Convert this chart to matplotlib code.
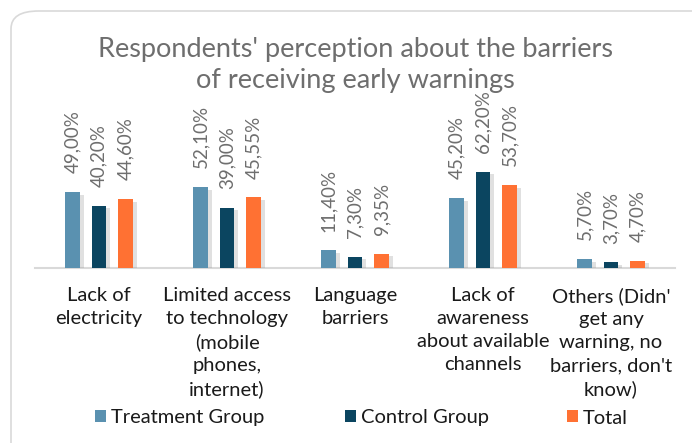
import matplotlib
matplotlib.use("Agg")
import matplotlib.pyplot as plt
import matplotlib.patheffects as pe
from matplotlib.patches import FancyBboxPatch, Patch
import numpy as np

categories = ["Lack of\nelectricity",
              "Limited access\nto technology\n(mobile\nphones,\ninternet)",
              "Language\nbarriers",
              "Lack of\nawareness\nabout available\nchannels",
              "Others (Didn'\nget any\nwarning, no\nbarriers, don't\nknow)"]
series_names = ["Treatment Group", "Control Group", "Total"]
treatment = [49.00, 52.10, 11.40, 45.20, 5.70]
control = [40.20, 39.00, 7.30, 62.20, 3.70]
total = [44.60, 45.55, 9.35, 53.70, 4.70]
labels_t = ["49,00%", "52,10%", "11,40%", "45,20%", "5,70%"]
labels_c = ["40,20%", "39,00%", "7,30%", "62,20%", "3,70%"]
labels_tot = ["44,60%", "45,55%", "9,35%", "53,70%", "4,70%"]
colors = ["#5A91B0", "#0B4560", "#FF7133"]

plt.rcParams['font.family'] = ['Lato', 'DejaVu Sans']

W, H = 692, 443
fig = plt.figure(figsize=(W / 100, H / 100), dpi=100)

# rounded border
border = FancyBboxPatch((11 / W, -0.2), 1.2, 1.2 - 11 / H,
                        boxstyle="round,pad=0,rounding_size=0.04",
                        transform=fig.transFigure, fill=False,
                        edgecolor="#D9D9D9", linewidth=1.2)
fig.patches.append(border)

ax_left, ax_right = 35 / W, 675 / W
ax_bottom = (H - 268) / H
ax_top = (H - 144) / H
ax = fig.add_axes([ax_left, ax_bottom, ax_right - ax_left, ax_top - ax_bottom])
ax.set_xlim(-0.5, 4.5)
ax.set_ylim(0, 80)
for s in ["top", "right", "left"]:
    ax.spines[s].set_visible(False)
ax.spines["bottom"].set_color("#D9D9D9")
ax.spines["bottom"].set_linewidth(1.5)
ax.set_yticks([])
ax.patch.set_alpha(0)

x = np.arange(len(categories))
off = 0.207
bw = 0.11
shadow = [pe.SimplePatchShadow(offset=(3, -2), shadow_rgbFace="#999999", alpha=0.3), pe.Normal()]
for i, (vals, labs) in enumerate(zip([treatment, control, total], [labels_t, labels_c, labels_tot])):
    bars = ax.bar(x + (i - 1) * off, vals, width=bw, color=colors[i], label=series_names[i], zorder=3)
    for b in bars:
        b.set_path_effects(shadow)
    for xi, v, lab in zip(x + (i - 1) * off, vals, labs):
        ax.annotate(lab, (xi, v), xytext=(0, 13.5), textcoords="offset points",
                    rotation=90, ha="center", va="bottom", fontsize=13.5,
                    color="#6E6E6E", clip_on=False)

ax.set_xticks(x)
ax.set_xticklabels(categories, fontsize=14.5, color="#1A1A1A", linespacing=1.42, va="top")
ax.tick_params(axis="x", length=0, pad=14)

fig.text(0.514, (H - 65) / H, "Respondents' perception about the barriers\nof receiving early warnings",
         ha="center", va="center", fontsize=19.5, color="#6E6E6E", linespacing=1.3)

legend_x = [95, 345, 567]
for name, c, lx in zip(series_names, colors, legend_x):
    leg = fig.legend([Patch(facecolor=c, edgecolor="none")], [name], loc="center left",
                     bbox_to_anchor=(lx / W, (H - 418) / H), frameon=False, fontsize=14.5,
                     handlelength=0.55, handleheight=0.55, handletextpad=0.25,
                     borderaxespad=0, borderpad=0)
    for t in leg.get_texts():
        t.set_color("#1A1A1A")

fig.savefig("out.png", dpi=100)
